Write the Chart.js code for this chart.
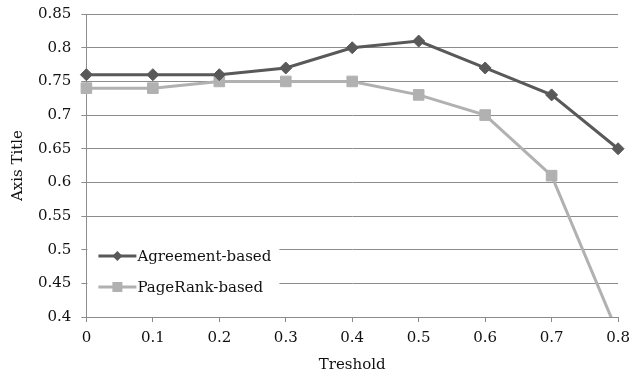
<!DOCTYPE html>
<html>
<head>
<meta charset="utf-8">
<script src="https://cdn.jsdelivr.net/npm/chart.js@4/dist/chart.umd.min.js"></script>
<style>
  html, body { margin: 0; padding: 0; background: #ffffff; }
  #wrap { width: 630px; height: 376px; }
</style>
</head>
<body>
<div id="wrap"><canvas id="c" width="630" height="376"></canvas></div>
<script>
// Threshold values on the x axis
const thresholds = ['0', '0.1', '0.2', '0.3', '0.4', '0.5', '0.6', '0.7', '0.8'];
// Scores for each method
const agreementBased = [0.76, 0.76, 0.76, 0.77, 0.80, 0.81, 0.77, 0.73, 0.65];
const pageRankBased = [0.74, 0.74, 0.75, 0.75, 0.75, 0.73, 0.70, 0.61, 0.375];
// Y axis tick labels
const yTickLabels = ['0.4', '0.45', '0.5', '0.55', '0.6', '0.65', '0.7', '0.75', '0.8', '0.85'];

const FONT = "'DejaVu Serif', serif";
const TEXT = '#111111';
const GRID = '#8c8c8c';

// Legend drawn inside the plot area, lower left, on a white box
const insetLegend = {
  id: 'insetLegend',
  beforeDatasetsDraw(chart) {
    const { ctx, chartArea } = chart;
    ctx.save();
    ctx.fillStyle = '#ffffff';
    ctx.fillRect(chartArea.left + 1, chartArea.bottom - 77, 192, 62);
    ctx.restore();
  },
  afterDatasetsDraw(chart) {
    const { ctx, chartArea } = chart;
    const x0 = chartArea.left + 12;
    const rows = [chartArea.bottom - 61, chartArea.bottom - 30];
    ctx.save();
    chart.data.datasets.forEach((ds, i) => {
      const y = rows[i];
      ctx.strokeStyle = ds.borderColor;
      ctx.lineWidth = ds.borderWidth;
      ctx.beginPath();
      ctx.moveTo(x0, y);
      ctx.lineTo(x0 + 38, y);
      ctx.stroke();
      ctx.fillStyle = ds.pointBackgroundColor;
      const cx = x0 + 19;
      ctx.beginPath();
      if (ds.pointStyle === 'rectRot') {
        ctx.moveTo(cx, y - 5);
        ctx.lineTo(cx + 5, y);
        ctx.lineTo(cx, y + 5);
        ctx.lineTo(cx - 5, y);
        ctx.closePath();
      } else {
        ctx.rect(cx - 5, y - 5, 10, 10);
      }
      ctx.fill();
      ctx.fillStyle = TEXT;
      ctx.font = '15px ' + FONT;
      ctx.textBaseline = 'middle';
      ctx.textAlign = 'left';
      ctx.fillText(ds.label, x0 + 39, y + 1);
    });
    ctx.restore();
  }
};

new Chart(document.getElementById('c'), {
  type: 'line',
  data: {
    labels: thresholds,
    datasets: [
      {
        label: 'Agreement-based',
        data: agreementBased,
        borderColor: '#595959',
        backgroundColor: '#595959',
        pointBackgroundColor: '#595959',
        pointBorderColor: '#595959',
        borderWidth: 3,
        pointStyle: 'rectRot',
        pointRadius: 6,
        pointBorderWidth: 1,
        tension: 0,
        clip: { left: 10, right: 10, top: 10, bottom: 0 }
      },
      {
        label: 'PageRank-based',
        data: pageRankBased,
        borderColor: '#b1b1b1',
        backgroundColor: '#b1b1b1',
        pointBackgroundColor: '#b1b1b1',
        pointBorderColor: '#b1b1b1',
        borderWidth: 3,
        pointStyle: 'rect',
        pointRadius: 7.5,
        pointBorderWidth: 1,
        tension: 0,
        clip: { left: 10, right: 10, top: 10, bottom: 0 }
      }
    ]
  },
  options: {
    responsive: false,
    animation: false,
    events: [],
    layout: { padding: { left: 9, right: 0, top: 0, bottom: 2 } },
    plugins: {
      legend: { display: false },
      tooltip: { enabled: false }
    },
    scales: {
      x: {
        offset: false,
        grid: {
          drawOnChartArea: false,
          drawTicks: true,
          tickLength: 5,
          color: GRID
        },
        border: { display: true, color: GRID, width: 1 },
        ticks: {
          color: TEXT,
          font: { family: FONT, size: 15, lineHeight: 2.2 },
          padding: 0,
          maxRotation: 0
        },
        title: {
          display: true,
          text: 'Treshold',
          color: TEXT,
          font: { family: FONT, size: 15 },
          padding: { top: 1, bottom: 0 }
        }
      },
      y: {
        min: 0.4,
        max: 0.85,
        afterBuildTicks(scale) {
          scale.ticks = yTickLabels.map(v => ({ value: parseFloat(v) }));
        },
        grid: {
          color: GRID,
          drawTicks: true,
          tickLength: 5
        },
        border: { display: true, color: GRID, width: 1 },
        ticks: {
          color: TEXT,
          font: { family: FONT, size: 15, lineHeight: 0.55 },
          padding: 10,
          callback(value, index) { return yTickLabels[index]; }
        },
        title: {
          display: true,
          text: 'Axis Title',
          color: TEXT,
          font: { family: FONT, size: 15 },
          padding: { top: 0, bottom: 1 }
        }
      }
    }
  },
  plugins: [insetLegend]
});
</script>
</body>
</html>
